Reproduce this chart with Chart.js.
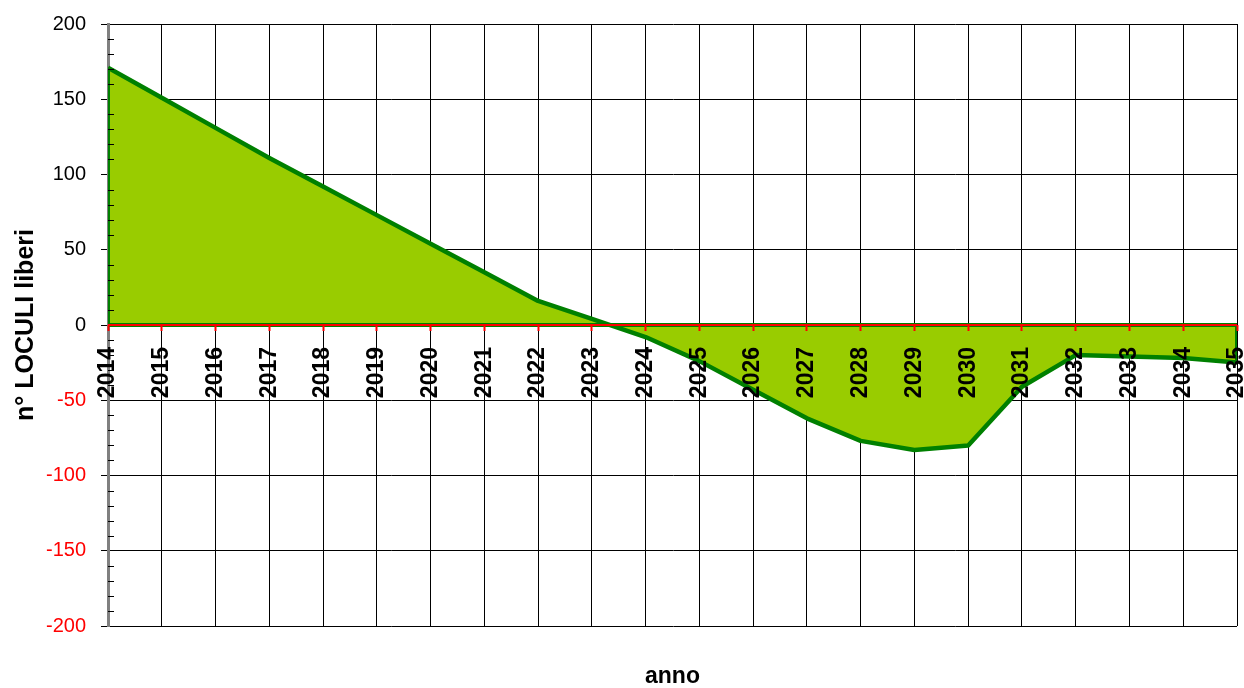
<!DOCTYPE html>
<html>
<head>
<meta charset="utf-8">
<script src="https://cdn.jsdelivr.net/npm/chart.js@4.4.1/dist/chart.umd.min.js"></script>
<style>
  html, body { margin: 0; padding: 0; background: #fff; }
  #wrap { width: 1244px; height: 688px; position: relative; }
</style>
</head>
<body>
<div id="wrap"><canvas id="chart"></canvas></div>
<script>
// data
const years = [2014, 2015, 2016, 2017, 2018, 2019, 2020, 2021, 2022, 2023, 2024,
               2025, 2026, 2027, 2028, 2029, 2030, 2031, 2032, 2033, 2034, 2035];
const freeSlots = [171, 151, 131, 111, 92, 73, 54, 35, 16, 4, -8,
                   -24, -43, -62, -77, -83, -80, -41, -20, -21, -22, -25];
const yTicks = [-200, -150, -100, -50, 0, 50, 100, 150, 200];
const minorStep = 10;

const FONT = "'Liberation Sans', Arial, sans-serif";
const first = years[0], last = years[years.length - 1];
const yMin = yTicks[0], yMax = yTicks[yTicks.length - 1];

const areaPoints = years.map((yr, i) => ({ x: yr, y: freeSlots[i] }));
// outline: left edge, the zero base and right edge of the filled area
const outlinePoints = [
    { x: first, y: freeSlots[0] }, { x: first, y: 0 },
    { x: last, y: 0 }, { x: last, y: freeSlots[freeSlots.length - 1] }
];
const zeroPoints = [{ x: first, y: 0 }, { x: last, y: 0 }];

const minorTicks = {
    id: 'minorTicks',
    afterDatasetsDraw(chart) {
        const ys = chart.scales.y;
        const left = chart.chartArea.left;
        const ctx = chart.ctx;
        ctx.save();
        ctx.strokeStyle = '#000';
        ctx.lineWidth = 1;
        for (let v = yMin; v <= yMax; v += minorStep) {
            if (yTicks.includes(v)) continue;
            const py = Math.round(ys.getPixelForValue(v)) + 0.5;
            ctx.beginPath();
            ctx.moveTo(left, py);
            ctx.lineTo(left + 6, py);
            ctx.stroke();
        }
        ctx.restore();
    }
};

const noPad = (s) => { s.paddingLeft = 0; s.paddingRight = 0; s.paddingTop = 0; s.paddingBottom = 0; };

new Chart(document.getElementById('chart'), {
    type: 'scatter',
    data: {
        datasets: [
            { data: zeroPoints, showLine: true, borderColor: '#ff0000', borderWidth: 2, pointRadius: 0, fill: false, order: 0 },
            { data: outlinePoints, showLine: true, borderColor: '#008000', borderWidth: 4, pointRadius: 0, fill: false, order: 1 },
            { data: areaPoints, showLine: true, borderColor: '#008000', borderWidth: 4.5, borderJoinStyle: 'round',
              backgroundColor: '#99cc00', fill: 'origin', pointRadius: 0, tension: 0, order: 2 }
        ]
    },
    options: {
        responsive: true,
        maintainAspectRatio: false,
        animation: false,
        layout: { padding: { top: 24, right: 7, left: 0, bottom: 0 } },
        plugins: {
            legend: { display: false },
            tooltip: { enabled: false }
        },
        scales: {
            // vertical grid lines, drawn under the area
            xGrid: {
                type: 'linear',
                position: { y: 0 },
                min: first,
                max: last,
                afterFit: noPad,
                grid: { color: '#000', lineWidth: 1, drawTicks: false },
                border: { display: false },
                ticks: { stepSize: 1, display: false }
            },
            // red ticks and year labels, drawn over the area
            x: {
                type: 'linear',
                position: { y: 0 },
                min: first,
                max: last,
                afterFit: noPad,
                grid: { drawOnChartArea: false, tickColor: '#ff0000', tickWidth: 2, tickLength: 6, z: 1 },
                border: { display: false },
                ticks: {
                    z: 2,
                    stepSize: 1,
                    autoSkip: false,
                    minRotation: 90,
                    maxRotation: 90,
                    padding: 16,
                    color: '#000',
                    font: { family: FONT, size: 23, weight: 'bold' },
                    callback: (v) => String(v)
                }
            },
            // axis title at the bottom, centred under the plot
            xTitle: {
                type: 'linear',
                position: 'bottom',
                min: first,
                max: last,
                afterFit: noPad,
                grid: { display: false },
                border: { display: false },
                ticks: { display: false },
                title: {
                    display: true,
                    text: 'anno',
                    color: '#000',
                    font: { family: FONT, size: 23, weight: 'bold', lineHeight: 1 },
                    padding: { top: 31, bottom: 0 }
                }
            },
            y: {
                min: yMin,
                max: yMax,
                afterFit: (s) => { noPad(s); s.width = 108; },
                grid: { color: '#000', lineWidth: 1, tickLength: 7, tickColor: '#000' },
                border: { color: '#808080', width: 3 },
                ticks: {
                    stepSize: 50,
                    padding: 15,
                    font: { family: FONT, size: 20 },
                    color: (c) => c.tick.value < 0 ? '#ff0000' : '#000',
                    callback: (v) => String(v)
                },
                title: {
                    display: true,
                    text: 'n° LOCULI liberi',
                    color: '#000',
                    font: { family: FONT, size: 25, weight: 'bold' },
                    padding: { top: 11, bottom: 0 }
                }
            }
        }
    },
    plugins: [minorTicks]
});
</script>
</body>
</html>
